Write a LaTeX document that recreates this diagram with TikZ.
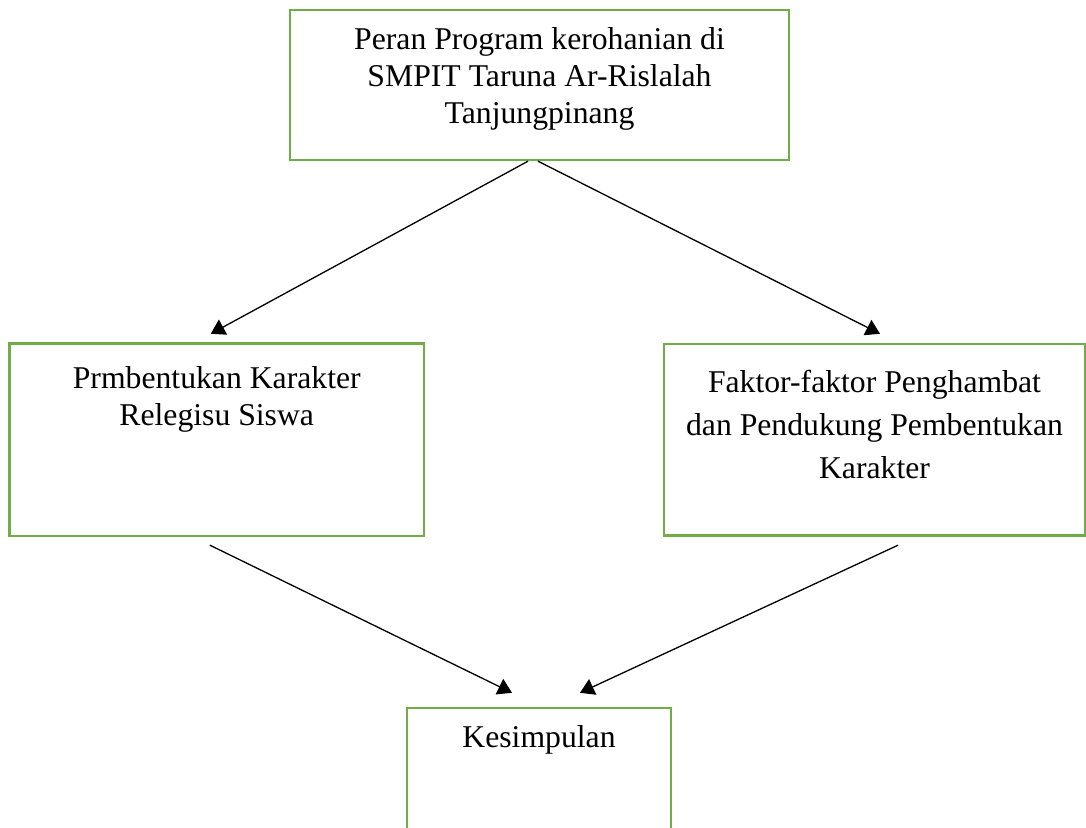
\documentclass[tikz,border=0pt]{standalone}
\usepackage{fontspec}
\setmainfont{Liberation Serif}
\usepackage{tikz}
\usetikzlibrary{arrows.meta,positioning}
\definecolor{boxgreen}{RGB}{112,173,71}
\newcommand{\boxfont}{\fontsize{15.85pt}{18.5pt}\selectfont}
\newcommand{\wideboxfont}{\fontsize{15.85pt}{21.5pt}\selectfont}

\begin{document}
\begin{tikzpicture}[
	x=0.5pt, y=-0.5pt,
	frame/.style={draw=boxgreen, line width=1.2pt, inner sep=0pt},
	txt/.style={inner sep=0pt, align=center, font=\boxfont},
	arr/.style={-{Triangle[length=7pt,width=8.5pt]}, line width=0.65pt}
	]
	\clip (0,0) rectangle (1086,828);
	\node [ frame, minimum width=249.5pt, minimum height=75pt ] (1) at (539.5,85) {};
	\node [ frame, minimum width=207.25pt, minimum height=96.25pt ] (2) at (216.75,439.75) {};
	\node [ frame, minimum width=210.5pt, minimum height=95.75pt ] (3) at (874.5,439.75) {};
	\node [ frame, minimum width=132pt, minimum height=96pt ] (4) at (539,804) {};
	\node [ txt, below=9.15pt of 1.north ] (1t)
		{Peran Program kerohanian di\\
		SMPIT Taruna Ar-Rislalah\\
		Tanjungpinang};
	\node [ txt, below=11.9pt of 2.north ] (2t)
		{Prmbentukan Karakter\\
		Relegisu Siswa};
	\node [ txt, font=\wideboxfont, below=13.65pt of 3.north ] (3t)
		{Faktor-faktor Penghambat\\
		dan Pendukung Pembentukan\\
		Karakter};
	\node [ txt, below=9.15pt of 4.north ] (4t)
		{Kesimpulan};
	\draw [ arr ] ([xshift=-5.75pt]1.south) to
		([xshift=-3pt,yshift=4.25pt]2.north);
	\draw [ arr ] ([xshift=-0.75pt]1.south) to
		([xshift=2.75pt,yshift=4.5pt]3.north);
	\draw [ arr ] ([xshift=-3.4pt,yshift=-4pt]2.south) to
		([xshift=-13.5pt,yshift=7pt]4.north);
	\draw [ arr ] ([xshift=11.75pt,yshift=-4.25pt]3.south) to
		([xshift=20.5pt,yshift=7pt]4.north);
\end{tikzpicture}
\end{document}
